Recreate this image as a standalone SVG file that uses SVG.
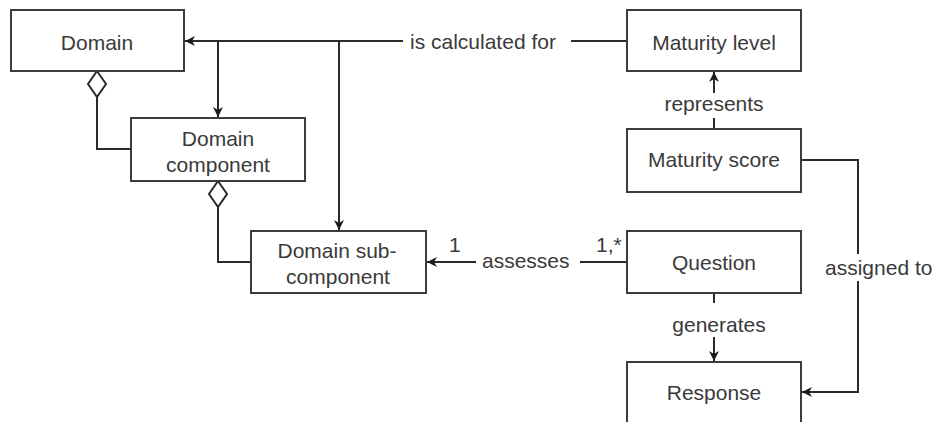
<svg xmlns="http://www.w3.org/2000/svg" width="942" height="422" viewBox="0 0 942 422">
  <style>
    .box { fill: #ffffff; stroke: #3c3c3c; stroke-width: 2; }
    .edge { fill: none; stroke: #2a2a2a; stroke-width: 2; }
    .agg { fill: #ffffff; stroke: #2a2a2a; stroke-width: 2; }
    .lbl { font-family: "Liberation Sans", Arial, sans-serif; font-size: 21px; fill: #3a3a3a; }
    .mid { text-anchor: middle; }
    .bg { fill: #ffffff; stroke: none; }
  </style>
  <defs>
    <marker id="arrow" viewBox="0 0 10 10" refX="10" refY="5" markerWidth="10" markerHeight="10" markerUnits="userSpaceOnUse" orient="auto">
      <path d="M0,0 L10,5 L0,10 L3,5 z" fill="#1a1a1a"/>
    </marker>
  </defs>
  <rect width="942" height="422" fill="#ffffff"/>

  <!-- connectors -->
  <g id="connectors">
    <!-- is calculated for -->
    <path class="edge" d="M627,41 L185,41" marker-end="url(#arrow)"/>
    <path class="edge" d="M218,41 L218,117" marker-end="url(#arrow)"/>
    <path class="edge" d="M339,41 L339,230" marker-end="url(#arrow)"/>
    <rect class="bg" x="403" y="28" width="168" height="26"/>
    <text class="lbl" x="410" y="49">is calculated for</text>

    <!-- aggregations -->
    <path class="edge" d="M97,97 L97,149 L131,149"/>
    <path class="agg" d="M97,71 L106,84 L97,97 L88,84 z"/>
    <path class="edge" d="M218,207 L218,262 L251,262"/>
    <path class="agg" d="M218,181 L227,194 L218,207 L209,194 z"/>

    <!-- represents -->
    <path class="edge" d="M714,129 L714,72" marker-end="url(#arrow)"/>
    <rect class="bg" x="660" y="93" width="108" height="25"/>
    <text class="lbl mid" x="714" y="111">represents</text>

    <!-- assesses -->
    <path class="edge" d="M627,262 L427,262" marker-end="url(#arrow)"/>
    <rect class="bg" x="476" y="249" width="104" height="26"/>
    <text class="lbl" x="482" y="268">assesses</text>
    <text class="lbl" x="449" y="252">1</text>
    <text class="lbl" x="596" y="252">1,*</text>

    <!-- generates -->
    <path class="edge" d="M714,293 L714,361" marker-end="url(#arrow)"/>
    <rect class="bg" x="664" y="303" width="106" height="34"/>
    <text class="lbl mid" x="719" y="332">generates</text>

    <!-- assigned to -->
    <path class="edge" d="M801,160 L858,160 L858,392 L802,392" marker-end="url(#arrow)"/>
    <rect class="bg" x="822" y="254" width="118" height="27"/>
    <text class="lbl" x="825" y="275">assigned to</text>
  </g>

  <!-- nodes -->
  <g id="domain">
    <rect class="box" x="11" y="10" width="173" height="61"/>
    <text class="lbl mid" x="97" y="50">Domain</text>
  </g>
  <g id="domain-component">
    <rect class="box" x="131" y="118" width="174" height="63"/>
    <text class="lbl mid" x="218" y="146">Domain</text>
    <text class="lbl mid" x="218" y="172">component</text>
  </g>
  <g id="domain-sub-component">
    <rect class="box" x="251" y="231" width="175" height="62"/>
    <text class="lbl mid" x="337" y="258">Domain sub-</text>
    <text class="lbl mid" x="338" y="284">component</text>
  </g>
  <g id="maturity-level">
    <rect class="box" x="627" y="10" width="174" height="61"/>
    <text class="lbl mid" x="714" y="50">Maturity level</text>
  </g>
  <g id="maturity-score">
    <rect class="box" x="627" y="129" width="174" height="63"/>
    <text class="lbl mid" x="714" y="167">Maturity score</text>
  </g>
  <g id="question">
    <rect class="box" x="627" y="231" width="174" height="62"/>
    <text class="lbl mid" x="714" y="270">Question</text>
  </g>
  <g id="response">
    <rect class="box" x="627" y="362" width="174" height="62"/>
    <text class="lbl mid" x="714" y="400">Response</text>
  </g>
</svg>
